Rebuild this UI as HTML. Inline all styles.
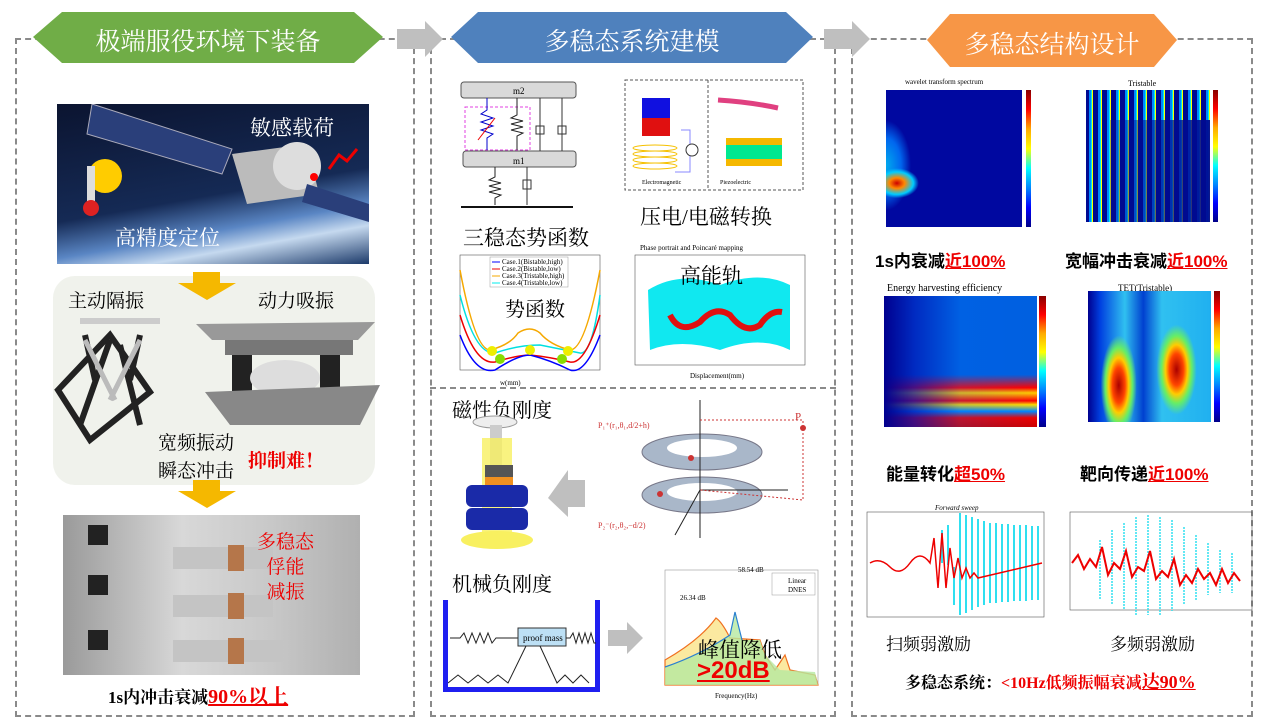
<!DOCTYPE html>
<html><head><meta charset="utf-8">
<style>
*{margin:0;padding:0;box-sizing:border-box}
body{width:1268px;height:722px;background:#fff;position:relative;overflow:hidden;font-family:"Liberation Sans","Noto Sans CJK SC",sans-serif}
.a{position:absolute}
.dash{position:absolute;border:2px dashed #8a8a8a}
.t{position:absolute;font-family:"Liberation Serif","Noto Serif CJK SC",serif;white-space:nowrap}
.red{color:#e00}
.u{text-decoration:underline}
.bt{position:absolute;color:#fff;font-size:25px;font-family:"Liberation Serif","Noto Serif CJK SC",serif;text-align:center}
.cb{position:absolute;background:linear-gradient(#800,#f00,#fa0,#ff0,#0ff,#08f,#00f,#008)}
</style></head><body>
<div class="dash" style="left:15px;top:38px;width:400px;height:679px"></div>
<div class="dash" style="left:430px;top:38px;width:406px;height:679px"></div>
<div class="dash" style="left:430px;top:387px;width:406px;height:0;border-width:2px 0 0 0"></div>
<div class="dash" style="left:851px;top:38px;width:402px;height:679px"></div>

<svg class="a" style="left:0;top:0" width="1268" height="80">
<polygon points="33,37 62,12 354,12 383,37 354,63 62,63" fill="#70ad47"/>
<polygon points="451,37 478,12 786,12 813,37 786,63 478,63" fill="#4f81bd"/>
<polygon points="927,40 950,14 1154,14 1177,40 1154,67 950,67" fill="#f79646"/>
<polygon points="397,29 425,29 425,21 443,39 425,57 425,49 397,49" fill="#bfbfbf"/>
<polygon points="824,29 852,29 852,21 870,39 852,57 852,49 824,49" fill="#bfbfbf"/>
</svg>
<div class="bt" style="left:33px;top:22px;width:350px">极端服役环境下装备</div>
<div class="bt" style="left:451px;top:22px;width:362px">多稳态系统建模</div>
<div class="bt" style="left:927px;top:25px;width:250px">多稳态结构设计</div>

<!-- LEFT -->
<div class="a" style="left:57px;top:104px;width:312px;height:160px;overflow:hidden;background:linear-gradient(170deg,#0b1430 0%,#152a55 55%,#5a86c4 72%,#c5d9ef 82%,#1c3a6a 100%)">
<svg width="312" height="160">
<polygon points="35,0 175,45 165,70 30,30" fill="#2a3f7a" stroke="#aab" stroke-width="1"/>
<polygon points="175,50 250,40 262,90 190,100" fill="#bbb"/>
<circle cx="240" cy="62" r="24" fill="#ddd"/>
<polygon points="250,80 312,100 312,118 245,98" fill="#2a3f7a"/>
<circle cx="48" cy="72" r="17" fill="#ffcc00"/>
<rect x="30" y="62" width="8" height="40" fill="#ddd"/><circle cx="34" cy="104" r="8" fill="#d22"/>
<circle cx="257" cy="73" r="4" fill="#f00"/>
<path d="M300,45 l-10,12 -8,-6 -10,14" stroke="#e00" stroke-width="3" fill="none"/>
</svg></div>
<div class="t" style="left:250px;top:112px;font-size:21px;color:#fff">敏感载荷</div>
<div class="t" style="left:115px;top:222px;font-size:21px;color:#fff">高精度定位</div>
<div class="a" style="left:53px;top:276px;width:322px;height:209px;background:#f0f2ec;border-radius:22px"></div>
<svg class="a" style="left:0;top:0" width="420" height="520">
<polygon points="193,272 220,272 220,283 236,283 207,300 178,283 193,283" fill="#f5b800"/>
<polygon points="193,480 220,480 220,491 236,491 207,508 178,491 193,491" fill="#f5b800"/>
<g stroke="#222" stroke-width="6" fill="none"><path d="M58,390 L110,335 L150,392 L90,440 Z"/><path d="M110,340 L80,425 M120,345 L140,425 M85,335 L95,380 M140,335 L130,380"/></g>
<g stroke="#bbb" stroke-width="5"><path d="M85,340 L115,400 M140,340 L110,400"/></g>
<rect x="80" y="318" width="80" height="6" fill="#ccc"/>
<polygon points="196,324 375,322 358,340 212,340" fill="#999"/>
<rect x="225" y="340" width="128" height="15" fill="#777"/>
<rect x="232" y="355" width="20" height="55" fill="#222"/><rect x="320" y="355" width="20" height="55" fill="#222"/>
<ellipse cx="285" cy="378" rx="35" ry="18" fill="#ddd"/>
<polygon points="205,392 380,385 360,425 230,425" fill="#888"/>
</svg>
<div class="t" style="left:68px;top:286px;font-size:19px">主动隔振</div>
<div class="t" style="left:258px;top:286px;font-size:19px">动力吸振</div>
<div class="t" style="left:158px;top:428px;font-size:19px">宽频振动</div>
<div class="t" style="left:158px;top:456px;font-size:19px">瞬态冲击</div>
<div class="t red" style="left:248px;top:446px;font-size:19px;font-weight:bold">抑制难！</div>
<div class="a" style="left:63px;top:515px;width:297px;height:160px;background:linear-gradient(90deg,#9a9a9a,#d8d8d8 40%,#c8c8c8 70%,#b0b0b0)"></div>
<svg class="a" style="left:63px;top:515px" width="297" height="160">
<g fill="#c4c4c4"><rect x="110" y="32" width="100" height="22"/><rect x="110" y="80" width="100" height="22"/><rect x="110" y="125" width="110" height="22"/></g>
<g fill="#b5764a"><rect x="165" y="30" width="16" height="26"/><rect x="165" y="78" width="16" height="26"/><rect x="165" y="123" width="16" height="26"/></g>
<g fill="#222"><rect x="25" y="10" width="20" height="20"/><rect x="25" y="60" width="20" height="20"/><rect x="25" y="115" width="20" height="20"/></g>
</svg>
<div class="t red" style="left:257px;top:530px;font-size:19px;line-height:25px;text-align:center">多稳态<br>俘能<br>减振</div>
<div class="t" style="left:108px;top:680px;font-size:17px;font-weight:bold">1s内冲击衰减<span class="red u" style="font-size:20px">90%以上</span></div>

<!-- MIDDLE TOP -->
<svg class="a" style="left:430px;top:60px" width="400" height="330" font-family="Liberation Serif" font-size="9">
<rect x="31" y="22" width="115" height="16" rx="3" fill="#d9d9d9" stroke="#555"/>
<rect x="33" y="91" width="113" height="16" rx="3" fill="#d9d9d9" stroke="#555"/>
<text x="83" y="34">m2</text><text x="83" y="104">m1</text>
<rect x="35" y="47" width="65" height="43" fill="none" stroke="#e040e0" stroke-dasharray="3,2"/>
<path d="M57,38 V50 l-6,4 12,4 -12,4 12,4 -12,4 12,4 -6,4 V90" stroke="#00c" fill="none"/>
<path d="M87,38 V55 l-6,3 12,3 -12,3 12,3 -12,3 12,3 -6,3 V90" stroke="#222" fill="none"/>
<line x1="48" y1="80" x2="65" y2="58" stroke="#e00"/>
<line x1="110" y1="38" x2="110" y2="91" stroke="#333"/><rect x="106" y="66" width="8" height="8" fill="none" stroke="#333"/>
<line x1="132" y1="38" x2="132" y2="91" stroke="#333"/><rect x="128" y="66" width="8" height="8" fill="none" stroke="#333"/>
<path d="M65,107 V117 l-6,3 12,3 -12,3 12,3 -12,3 12,3 -6,3 V145" stroke="#222" fill="none"/>
<line x1="97" y1="107" x2="97" y2="145" stroke="#333"/><rect x="93" y="120" width="8" height="9" fill="none" stroke="#333"/>
<line x1="31" y1="147" x2="143" y2="147" stroke="#111" stroke-width="2"/>
<rect x="195" y="20" width="178" height="110" fill="none" stroke="#555" stroke-dasharray="3,2"/>
<line x1="278" y1="20" x2="278" y2="130" stroke="#555" stroke-dasharray="3,2"/>
<rect x="212" y="38" width="28" height="20" fill="#1010e0"/><rect x="212" y="58" width="28" height="18" fill="#e01010"/>
<g stroke="#f5c000" fill="none"><ellipse cx="225" cy="88" rx="22" ry="3"/><ellipse cx="225" cy="94" rx="22" ry="3"/><ellipse cx="225" cy="100" rx="22" ry="3"/><ellipse cx="225" cy="106" rx="22" ry="3"/></g>
<path d="M251,70 H260 V112 H245 M260,78" stroke="#88f" fill="none"/><circle cx="262" cy="90" r="6" fill="#fff" stroke="#333"/>
<path d="M288,40 Q320,42 348,48" stroke="#e04080" stroke-width="5" fill="none"/>
<rect x="296" y="78" width="56" height="7" fill="#f5b800"/><rect x="296" y="85" width="56" height="14" fill="#00e890"/><rect x="296" y="99" width="56" height="7" fill="#f5b800"/>
<text x="212" y="124" font-size="6">Electromagnetic</text><text x="290" y="124" font-size="6">Piezoelectric</text>
</svg>
<div class="t" style="left:640px;top:201px;font-size:21px">压电/电磁转换</div>
<div class="t" style="left:463px;top:222px;font-size:21px">三稳态势函数</div>
<svg class="a" style="left:440px;top:245px" width="170" height="145" font-family="Liberation Serif" font-size="7">
<rect x="20" y="10" width="140" height="115" fill="none" stroke="#555" stroke-width="0.6"/>
<path d="M20,25 Q35,105 50,105 Q70,100 78,88 Q90,80 100,88 Q110,100 130,105 Q145,105 160,25" stroke="#f5a800" stroke-width="1.5" fill="none"/>
<path d="M20,50 Q35,110 55,108 Q78,100 100,100 Q125,105 140,108 Q152,110 160,50" stroke="#00e0e0" stroke-width="1.5" fill="none"/>
<path d="M20,70 Q35,120 55,117 Q78,110 90,110 Q110,112 130,117 Q145,120 160,70" stroke="#e00" stroke-width="1.5" fill="none"/>
<path d="M20,90 Q35,130 55,125 Q78,110 90,110 Q110,115 130,125 Q145,130 160,90" stroke="#00f" stroke-width="1.5" fill="none"/>
<circle cx="52" cy="106" r="5" fill="#ee0"/><circle cx="90" cy="105" r="5" fill="#ee0"/><circle cx="128" cy="106" r="5" fill="#ee0"/>
<circle cx="60" cy="114" r="5" fill="#8d0"/><circle cx="122" cy="114" r="5" fill="#8d0"/>
<rect x="50" y="12" width="78" height="30" fill="#fff" stroke="#999" stroke-width="0.5"/>
<line x1="52" y1="17" x2="60" y2="17" stroke="#00f"/><line x1="52" y1="24" x2="60" y2="24" stroke="#e00"/><line x1="52" y1="31" x2="60" y2="31" stroke="#f5a800"/><line x1="52" y1="38" x2="60" y2="38" stroke="#0ee"/>
<text x="62" y="19">Case.1(Bistable,high)</text><text x="62" y="26">Case.2(Bistable,low)</text><text x="62" y="33">Case.3(Tristable,high)</text><text x="62" y="40">Case.4(Tristable,low)</text>
<text x="60" y="140">w(mm)</text>
</svg>
<div class="t" style="left:505px;top:293px;font-size:20px">势函数</div>
<svg class="a" style="left:620px;top:240px" width="200" height="145" font-family="Liberation Serif" font-size="7">
<text x="20" y="10">Phase portrait and Poincaré mapping</text>
<rect x="15" y="15" width="170" height="110" fill="none" stroke="#555" stroke-width="0.6"/>
<path d="M28,50 Q60,30 100,45 Q140,30 170,45 L170,110 Q140,95 100,110 Q60,98 30,110 Z" fill="#10e8f0"/>
<path d="M50,75 Q60,95 80,82 Q95,65 110,75 Q125,95 140,85 Q150,70 162,72" stroke="#e01010" stroke-width="6" fill="none"/>
<text x="70" y="138">Displacement(mm)</text>
</svg>
<div class="t" style="left:680px;top:260px;font-size:21px">高能轨</div>

<!-- MIDDLE BOTTOM -->
<div class="t" style="left:452px;top:394px;font-size:20px">磁性负刚度</div>
<svg class="a" style="left:430px;top:390px" width="400" height="320" font-family="Liberation Serif" font-size="8">
<ellipse cx="65" cy="32" rx="22" ry="6" fill="#eee" stroke="#999"/>
<rect x="60" y="35" width="12" height="40" fill="#ccc"/>
<rect x="52" y="48" width="30" height="100" fill="#f8f060" opacity="0.8"/>
<rect x="55" y="75" width="28" height="12" fill="#555"/>
<rect x="55" y="87" width="28" height="20" fill="#f09020"/>
<rect x="36" y="95" width="62" height="22" rx="6" fill="#1a2aa8"/>
<rect x="36" y="118" width="62" height="22" rx="6" fill="#1a2aa8"/>
<ellipse cx="67" cy="150" rx="36" ry="9" fill="#f8f060"/>
<polygon points="155,90 138,90 138,80 118,108 138,127 138,117 155,117" fill="#bfbfbf"/>
<ellipse cx="272" cy="62" rx="60" ry="18" fill="#a9b7c9" stroke="#778"/>
<ellipse cx="272" cy="58" rx="35" ry="9" fill="#fff"/>
<ellipse cx="272" cy="105" rx="60" ry="18" fill="#a9b7c9" stroke="#778"/>
<ellipse cx="272" cy="102" rx="35" ry="9" fill="#fff"/>
<line x1="270" y1="10" x2="270" y2="148" stroke="#222"/>
<line x1="270" y1="100" x2="245" y2="145" stroke="#222"/><line x1="270" y1="100" x2="358" y2="100" stroke="#222"/>
<polyline points="270,30 373,30 373,110 270,100" fill="none" stroke="#c33" stroke-dasharray="2,2"/>
<circle cx="373" cy="38" r="3" fill="#c33"/>
<text x="365" y="30" fill="#c33" font-size="11">P</text>
<text x="168" y="38" fill="#c33" font-size="8">P₁⁺(r₁,θ₁,d/2+h)</text>
<text x="168" y="138" fill="#c33" font-size="8">P₂⁻(r₂,θ₂,−d/2)</text>
<circle cx="261" cy="68" r="3" fill="#c33"/><circle cx="230" cy="104" r="3" fill="#c33"/>
</svg>
<div class="t" style="left:452px;top:568px;font-size:20px">机械负刚度</div>
<div class="a" style="left:443px;top:600px;width:157px;height:92px;border:5px solid #1f1ff0;border-top:none"></div>
<svg class="a" style="left:448px;top:598px" width="148" height="90">
<path d="M2,40 H12 l4,-5 4,10 4,-10 4,10 4,-10 4,10 4,-10 4,10 4,-5 H70" stroke="#222" fill="none"/>
<rect x="70" y="30" width="48" height="18" fill="#bde0f5" stroke="#333"/>
<text x="75" y="43" font-family="Liberation Serif" font-size="9">proof mass</text>
<path d="M118,40 H122 l3,-5 3,10 3,-10 3,10 3,-10 3,10 3,-10 3,10 H148" stroke="#222" fill="none"/>
<path d="M0,85 l10,-8 10,8 10,-8 10,8 10,-8 10,8 L78,48 M92,48 l17,37 8,-8 8,8 8,-8 8,8" stroke="#222" fill="none"/>
</svg>
<svg class="a" style="left:605px;top:620px" width="40" height="40"><polygon points="3,10 22,10 22,2 38,18 22,34 22,26 3,26" fill="#bfbfbf"/></svg>
<svg class="a" style="left:640px;top:560px" width="190" height="140" font-family="Liberation Serif" font-size="7">
<rect x="25" y="10" width="153" height="115" fill="none" stroke="#999" stroke-width="0.6"/>
<path d="M25,100 Q60,80 76,58 Q82,62 90,78 L120,80 L125,95 L135,110 L145,95 L150,110 L175,115 L178,125 L25,125 Z" fill="#fbe9a0" stroke="#f07020" stroke-width="1.2"/>
<path d="M25,107 Q60,95 90,75 L95,52 L102,80 L120,80 L125,95 L140,110 L175,112 L178,125 L25,125 Z" fill="#b5e8a0" opacity="0.8"/>
<path d="M25,107 Q60,95 90,75 L95,52 L102,80" stroke="#2a80d0" stroke-width="1.2" fill="none"/>
<rect x="132" y="13" width="43" height="22" fill="#fff" stroke="#999" stroke-width="0.5"/>
<text x="148" y="23">Linear</text><text x="148" y="32">DNES</text>
<text x="98" y="12">58.54 dB</text><text x="40" y="40">26.34 dB</text>
<text x="75" y="138">Frequency(Hz)</text>
</svg>
<div class="t" style="left:698px;top:634px;font-size:21px">峰值降低</div>
<div class="t red u" style="left:697px;top:657px;font-size:24px;font-weight:bold;font-family:'Liberation Sans',sans-serif">&gt;20dB</div>

<!-- RIGHT -->
<div class="t" style="left:905px;top:78px;font-size:7px">wavelet transform spectrum</div>
<div class="a" style="left:886px;top:90px;width:136px;height:137px;background:radial-gradient(ellipse 22px 15px at 8% 68%,#c00 0%,#f80 35%,#0cf 75%,transparent 100%),radial-gradient(ellipse 25px 45px at 0% 55%,#0ae 0%,#06e 60%,transparent 100%),#0008a0"></div>
<div class="cb" style="left:1026px;top:90px;width:5px;height:137px"></div>
<div class="t" style="left:1128px;top:79px;font-size:8px">Tristable</div>
<div class="a" style="left:1086px;top:90px;width:124px;height:132px;background:repeating-linear-gradient(90deg,#000a90 0 3px,#08f 3px 5px,#0ee 5px 6px,#ff0 6px 7px,#000a90 7px 9px)"></div>
<div class="a" style="left:1110px;top:120px;width:100px;height:102px;background:linear-gradient(90deg,rgba(0,10,144,0.3),rgba(0,10,144,0.95))"></div>
<div class="cb" style="left:1213px;top:90px;width:5px;height:132px"></div>
<div class="t" style="left:875px;top:247px;font-size:17px;font-weight:bold;font-family:'Liberation Sans','Noto Sans CJK SC',sans-serif">1s内衰减<span class="red u">近100%</span></div>
<div class="t" style="left:1065px;top:247px;font-size:17px;font-weight:bold;font-family:'Liberation Sans','Noto Sans CJK SC',sans-serif">宽幅冲击衰减<span class="red u">近100%</span></div>
<div class="t" style="left:887px;top:283px;font-size:10px">Energy harvesting efficiency</div>
<div class="a" style="left:884px;top:296px;width:153px;height:131px;background:linear-gradient(180deg,transparent 0%,transparent 60%,#f00 70%,#fc0 74%,#f00 80%,#fd0 83%,#08f 88%,#e00 93%,#c00 100%),#0060e0"></div>
<div class="a" style="left:884px;top:296px;width:153px;height:131px;background:linear-gradient(90deg,#00008f 0%,rgba(0,20,180,0.7) 20%,rgba(0,100,240,0.2) 50%,transparent 100%)"></div>
<div class="cb" style="left:1039px;top:296px;width:7px;height:131px"></div>
<div class="t" style="left:1118px;top:283px;font-size:9px">TET(Tristable)</div>
<div class="a" style="left:1088px;top:291px;width:123px;height:131px;background:radial-gradient(ellipse 18px 50px at 25% 72%,#a00 0%,#f40 35%,#fc0 55%,#6e6 75%,transparent 100%),radial-gradient(ellipse 20px 45px at 72% 60%,#a00 0%,#f40 35%,#fc0 55%,#6e6 75%,transparent 100%),linear-gradient(90deg,#00008f 0%,#0040e0 10%,#30c0f0 30%,#0040d0 45%,#30c0f0 60%,#20b0f0 100%)"></div>
<div class="cb" style="left:1214px;top:291px;width:6px;height:131px"></div>
<div class="t" style="left:886px;top:460px;font-size:17px;font-weight:bold;font-family:'Liberation Sans','Noto Sans CJK SC',sans-serif">能量转化<span class="red u">超50%</span></div>
<div class="t" style="left:1080px;top:460px;font-size:17px;font-weight:bold;font-family:'Liberation Sans','Noto Sans CJK SC',sans-serif">靶向传递<span class="red u">近100%</span></div>
<svg class="a" style="left:850px;top:505px" width="410" height="140" font-family="Liberation Serif" font-size="7">
<rect x="17" y="7" width="177" height="105" fill="none" stroke="#555" stroke-width="0.6"/>
<text x="85" y="5" font-style="italic">Forward sweep</text>
<g stroke="#30e0f0" stroke-width="2"><path d="M92,58 L92,25 M98,60 L98,20 M104,62 L104,100 M110,8 L110,110 M116,10 L116,108 M122,12 L122,105 M128,14 L128,102 M134,16 L134,100 M140,18 L140,98 M146,18 L146,98 M152,19 L152,97 M158,19 L158,97 M164,20 L164,96 M170,20 L170,96 M176,20 L176,96 M182,21 L182,95 M188,21 L188,95"/></g>
<path d="M20,58 Q30,52 40,62 T60,58 T80,58 l4,-25 4,50 4,-55 4,55 4,-40 4,30 4,-20 4,20 4,-10 4,10 4,-5 4,5 L192,58" stroke="#e00" stroke-width="1.5" fill="none"/>
<rect x="220" y="7" width="182" height="98" fill="none" stroke="#555" stroke-width="0.6"/>
<g stroke="#30e0f0" stroke-width="1.5" stroke-dasharray="2,1"><path d="M250,35 V95 M262,25 V100 M274,18 V105 M286,12 V110 M298,10 V110 M310,12 V110 M322,15 V106 M334,22 V100 M346,30 V95 M358,38 V90 M370,45 V88 M382,48 V88"/></g>
<path d="M222,58 l6,-8 6,14 6,-10 6,8 6,-20 6,28 6,-12 6,6 6,-18 6,26 6,-10 6,4 6,-20 6,28 6,-8 6,6 6,-18 6,26 6,-10 6,8 6,-14 6,10 6,-6 6,12 6,-16 6,14 6,-10 6,8" stroke="#e00" stroke-width="2" fill="none"/>
</svg>
<div class="t" style="left:886px;top:630px;font-size:17px">扫频弱激励</div>
<div class="t" style="left:1110px;top:630px;font-size:17px">多频弱激励</div>
<div class="t" style="left:905px;top:668px;font-size:16px;font-weight:bold">多稳态系统：<span class="red">&lt;10Hz低频振幅衰减<span class="u" style="font-size:18px">达90%</span></span></div>
</body></html>
